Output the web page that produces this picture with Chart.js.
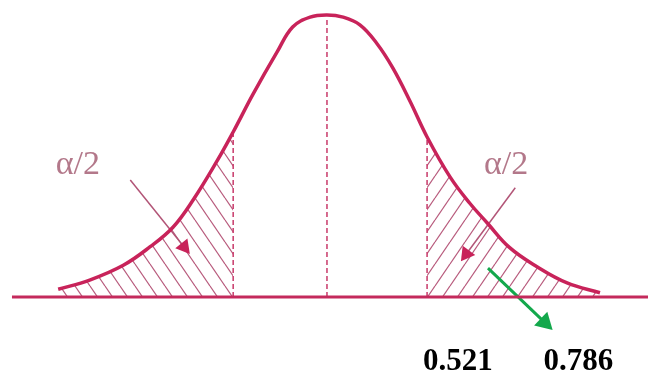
<!DOCTYPE html>
<html lang="en">
<head>
<meta charset="UTF-8">
<title>Two-tailed normal curve</title>
<script src="https://cdn.jsdelivr.net/npm/chart.js"></script>
<style>
  html, body { margin: 0; padding: 0; background: #fff; }
  #wrap { width: 648px; height: 373px; }
</style>
</head>
<body>
<div id="wrap"><canvas id="curveChart" width="648" height="373"></canvas></div>
<script>
// bell curve: x in sd units from the centre, y = density
const curveX = [-3.84, -3.39, -2.91, -2.53, -2.2, -1.91, -1.57, -1.34, -1.06, -0.71, -0.49, -0.24, 0,
                0.23, 0.47, 0.71, 0.94, 1.19, 1.43, 1.76, 2.04, 2.29, 2.61, 3.0, 3.43, 3.9];
const curveY = [0.011, 0.024, 0.045, 0.071, 0.099, 0.138, 0.193, 0.234, 0.287, 0.348, 0.383, 0.397, 0.4,
                0.397, 0.386, 0.360, 0.325, 0.277, 0.227, 0.170, 0.133, 0.105, 0.070, 0.043, 0.020, 0.006];

// tail cut-offs and the centre line
const leftCut = -1.34;
const rightCut = 1.43;
const centreTop = 0.393;
const baseX = [-4.5, 4.7];

// arrows (start, end)
const leftArrowX = [-2.81, -2.04];
const leftArrowY = [0.166, 0.071];
const rightArrowX = [2.69, 1.99];
const rightArrowY = [0.155, 0.061];
const greenArrowX = [2.3, 3.11];
const greenArrowY = [0.041, -0.036];

// text
const alphaLabels = ['α/2', 'α/2'];
const alphaX = [-3.56, 2.56];
const alphaY = 0.1745;
const valueLabels = ['0.521', '0.786'];
const valueX = [1.87, 3.59];
const valueY = -0.1035;

const crimson = '#c8235a';

function pts(xs, ys) {
    return xs.map((x, i) => ({ x: x, y: ys[i] }));
}

function valueAt(x) {
    return curveY[curveX.indexOf(x)];
}

function hatch(dir) {
    const c = document.createElement('canvas');
    c.width = 15; c.height = 22;
    const g = c.getContext('2d');
    g.strokeStyle = 'rgba(170,60,100,0.85)';
    g.lineWidth = 1.2;
    for (let k = -1; k <= 1; k++) {
        g.beginPath();
        if (dir === 'back') { g.moveTo(k * 15, 0); g.lineTo(k * 15 + 15, 22); }
        else { g.moveTo(k * 15 + 15, 0); g.lineTo(k * 15, 22); }
        g.stroke();
    }
    return g.createPattern(c, 'repeat');
}

function headAngle(ctx) {
    const d = ctx.dataset.data;
    const sx = ctx.chart.scales.x, sy = ctx.chart.scales.y;
    const dx = sx.getPixelForValue(d[1].x) - sx.getPixelForValue(d[0].x);
    const dy = sy.getPixelForValue(d[1].y) - sy.getPixelForValue(d[0].y);
    return Math.atan2(dx, -dy) * 180 / Math.PI;
}

const curve = pts(curveX, curveY);
const leftTail = curve.filter(p => p.x <= leftCut);
const rightTail = curve.filter(p => p.x >= rightCut);

const labelPlugin = {
    id: 'labels',
    afterDatasetsDraw(chart) {
        const { ctx, scales: { x, y } } = chart;
        ctx.save();
        ctx.textAlign = 'center';
        ctx.textBaseline = 'alphabetic';
        ctx.font = '34px "Liberation Serif"';
        ctx.fillStyle = '#b3788a';
        alphaLabels.forEach((t, i) => ctx.fillText(t, x.getPixelForValue(alphaX[i]), y.getPixelForValue(alphaY)));
        ctx.font = 'bold 31px "Liberation Serif"';
        ctx.fillStyle = '#000';
        valueLabels.forEach((t, i) => ctx.fillText(t, x.getPixelForValue(valueX[i]), y.getPixelForValue(valueY)));
        ctx.restore();
    }
};

const line = (data, extra) => Object.assign({
    data: data,
    borderColor: crimson,
    borderWidth: 1.5,
    pointRadius: 0,
    fill: false,
    tension: 0
}, extra);

new Chart(document.getElementById('curveChart'), {
    type: 'line',
    data: {
        datasets: [
            line(curve, { borderWidth: 3.5, tension: 0.4 }),
            line(pts(baseX, [0, 0]), { borderWidth: 3, borderColor: '#c42a5c' }),
            line(pts([0, 0], [0, centreTop]), { borderDash: [5, 3], borderColor: '#c83a6a' }),
            line(pts([leftCut, leftCut], [0, valueAt(leftCut)]), { borderDash: [5, 3], borderColor: '#c83a6a' }),
            line(pts([rightCut, rightCut], [0, valueAt(rightCut)]), { borderDash: [5, 3], borderColor: '#c83a6a' }),
            line(pts(leftArrowX, leftArrowY), {
                borderColor: '#b25577', pointRadius: [0, 9], pointStyle: 'triangle',
                pointBackgroundColor: crimson, pointBorderWidth: 0, pointRotation: headAngle
            }),
            line(pts(rightArrowX, rightArrowY), {
                borderColor: '#b25577', pointRadius: [0, 9], pointStyle: 'triangle',
                pointBackgroundColor: crimson, pointBorderWidth: 0, pointRotation: headAngle
            }),
            line(pts(greenArrowX, greenArrowY), {
                borderColor: '#13a84c', borderWidth: 3, pointRadius: [0, 11], pointStyle: 'triangle',
                pointBackgroundColor: '#13a84c', pointBorderWidth: 0, pointRotation: headAngle
            }),
            line(leftTail, {
                borderWidth: 0, borderColor: 'rgba(0,0,0,0)', tension: 0.4,
                fill: 'origin', backgroundColor: hatch('back')
            }),
            line(rightTail, {
                borderWidth: 0, borderColor: 'rgba(0,0,0,0)', tension: 0.4,
                fill: 'origin', backgroundColor: hatch('fwd')
            })
        ]
    },
    options: {
        responsive: false,
        animation: false,
        events: [],
        layout: { padding: 0, autoPadding: false },
        plugins: { legend: { display: false }, tooltip: { enabled: false } },
        scales: {
            x: { type: 'linear', min: -4.671, max: 4.586, display: false },
            y: { type: 'linear', min: -0.1078, max: 0.4213, display: false }
        }
    },
    plugins: [labelPlugin]
});
</script>
</body>
</html>
